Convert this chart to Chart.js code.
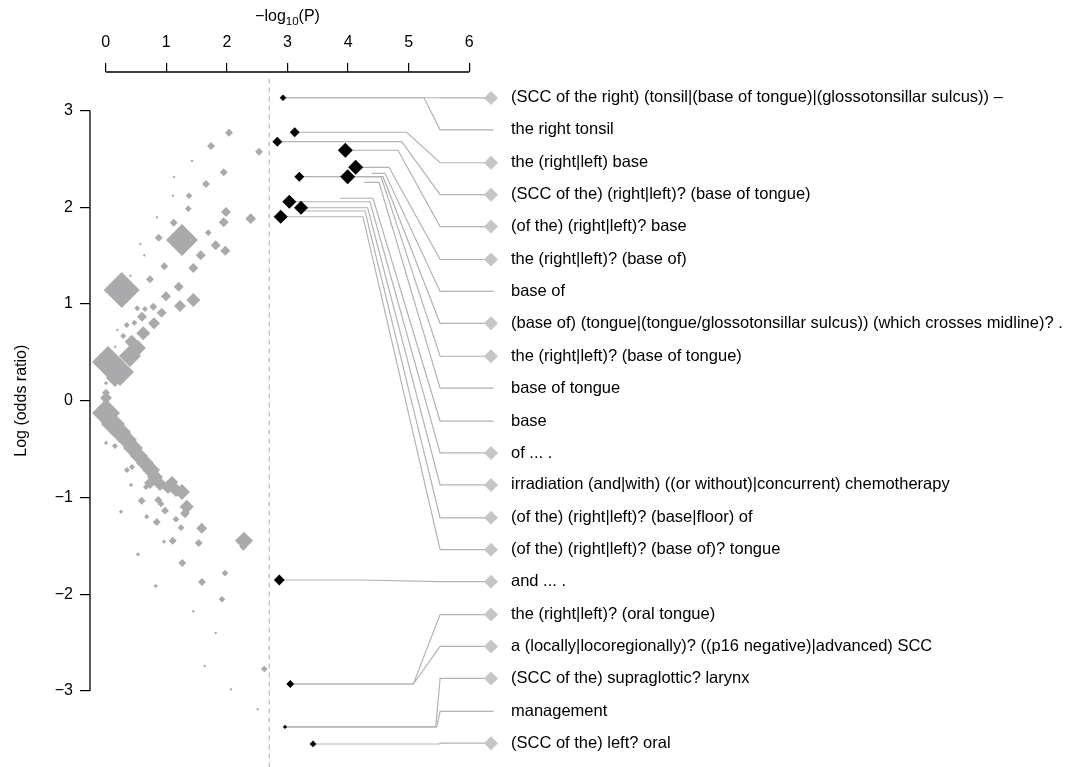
<!DOCTYPE html>
<html>
<head>
<meta charset="utf-8">
<script src="https://cdn.jsdelivr.net/npm/chart.js@4.4.1/dist/chart.umd.min.js"></script>
<style>
  html, body { margin: 0; padding: 0; background: #fff; overflow: hidden; }
  canvas { display: block; }
</style>
</head>
<body>
<canvas id="chart" width="1083" height="767" style="width:1083px;height:767px"></canvas>
<script>
// non-significant phrases: -log10(P), log odds ratio, count
const greyX = [2.035, 1.738, 2.530, 1.424, 1.947, 1.127, 1.655, 1.111, 1.375, 1.363, 1.985, 1.947, 2.393, 0.847, 1.122,
  0.875, 1.259, 1.693, 0.571, 1.815, 1.974, 0.637, 1.568, 0.967, 1.446, 0.406, 0.731, 0.264, 1.205, 0.995, 1.446, 1.226,
  0.521, 0.649, 0.785, 0.924, 0.599, 0.347, 0.472, 0.797, 0.191, 0.290, 0.620, 0.429, 0.158, 0.038, 0.236, 0.401, 0.533,
  0.153, 0.005, 0.005,
  0.005, 0.005, 0.120, 0.236, 0.351, 0.450, 0.549, 0.648, 0.748, 0.814, 0.731, 0.896, 1.028, 1.160, 1.259, 1.094,
  0.005, 0.153, 0.351, 0.434, 0.417, 0.665,
  0.594, 0.868, 0.913, 1.337, 1.309, 0.979, 0.252, 0.677, 0.842, 1.160, 1.243, 1.584, 0.962, 1.106, 1.535, 2.282, 2.271,
  0.533, 1.264, 1.969, 1.589, 0.825, 1.919, 1.446, 1.815, 1.634, 2.617, 2.068, 2.508];
const greyY = [2.771, 2.633, 2.574, 2.481, 2.361, 2.313, 2.240, 2.119, 2.119, 1.985, 1.951, 1.844, 1.882, 1.896, 1.840,
  1.685, 1.662, 1.737, 1.620, 1.607, 1.551, 1.503, 1.503, 1.390, 1.372, 1.293, 1.255, 1.145, 1.179, 1.080, 1.041, 0.979,
  0.956, 0.948, 0.972, 0.910, 0.869, 0.783, 0.807, 0.801, 0.731, 0.669, 0.697, 0.610, 0.559, 0.401, 0.297, 0.463, 0.545,
  0.235, 0.183, 0.083,
  0.028, -0.127, -0.241, -0.323, -0.406, -0.488, -0.571, -0.643, -0.716, -0.788, -0.850, -0.861, -0.892, -0.923, -0.943, -0.840,
  -0.436, -0.468, -0.716, -0.685, -0.871, -0.892,
  -1.033, -1.026, -1.067, -1.095, -1.163, -1.136, -1.147, -1.198, -1.253, -1.225, -1.312, -1.318, -1.457, -1.447, -1.470,
  -1.447, -1.509, -1.587, -1.677, -1.783, -1.873, -1.915, -2.052, -2.176, -2.400, -2.742, -2.773, -2.982, -3.189];
const greyN = [7, 7, 7, 1, 7, 1, 7, 1, 5, 5, 11, 11, 13, 1, 7,
  7, 114, 5, 1, 11, 11, 1, 11, 7, 11, 1, 7, 144, 11, 11, 22, 16,
  4, 4, 7, 11, 11, 4, 4, 16, 1, 4, 22, 22, 1, 114, 87, 54, 28,
  36, 2, 7,
  16, 87, 64, 54, 44, 44, 36, 36, 36, 28, 16, 22, 22, 22, 28, 16,
  2, 4, 4, 4, 2, 4,
  7, 7, 5, 22, 11, 7, 2, 3, 7, 5, 5, 13, 2, 7, 7,
  36, 7, 2, 7, 5, 7, 2, 5, 1, 1, 1, 5, 1, 1];

// significant phrases
const hitX = [2.926, 3.119, 2.832, 3.954, 4.125, 3.993, 3.195, 3.030, 3.223, 2.888, 2.865, 3.046, 2.959, 3.421];
const hitY = [3.132, 2.775, 2.678, 2.589, 2.413, 2.316, 2.316, 2.057, 1.995, 1.902, -1.853, -2.928, -3.372, -3.548];
const hitN = [5, 11, 11, 25, 25, 25, 11, 22, 22, 22, 13, 7, 2, 5];

const phrases = [
  "(SCC of the right) (tonsil|(base of tongue)|(glossotonsillar sulcus)) \u2013",
  "the right tonsil",
  "the (right|left) base",
  "(SCC of the) (right|left)? (base of tongue)",
  "(of the) (right|left)? base",
  "the (right|left)? (base of)",
  "base of",
  "(base of) (tongue|(tongue/glossotonsillar sulcus)) (which crosses midline)? .",
  "the (right|left)? (base of tongue)",
  "base of tongue",
  "base",
  "of ... .",
  "irradiation (and|with) ((or without)|concurrent) chemotherapy",
  "(of the) (right|left)? (base|floor) of",
  "(of the) (right|left)? (base of)? tongue",
  "and ... .",
  "the (right|left)? (oral tongue)",
  "a (locally|locoregionally)? ((p16 negative)|advanced) SCC",
  "(SCC of the) supraglottic? larynx",
  "management",
  "(SCC of the) left? oral"
];
const phraseY = [3.13, 2.80, 2.46, 2.13, 1.80, 1.46, 1.13, 0.80, 0.46, 0.13, -0.21, -0.54, -0.87, -1.21, -1.54,
  -1.87, -2.21, -2.54, -2.87, -3.21, -3.54];
const phraseMark = [1, 0, 1, 1, 1, 1, 0, 1, 1, 0, 0, 1, 1, 1, 1, 1, 1, 1, 1, 0, 1];
// which significant phrase each label is linked to (index into hit*, or a start point)
const phraseFrom = [0, 0, 1, 2, 3, 4, [4.389, 2.351], 6, 5, [4.267, 2.258], [3.866, 2.093], 7, 8, [3.223, 1.961], 9,
  10, 11, 11, 12, 12, 13];

// connector layout
const bendX = [5.518, 5.252, 4.967, 4.884, 4.823, 4.675, 4.609, 4.576, 4.543, 4.510, 4.411, 4.361, 4.323, 4.279, 4.246,
  4.196, 5.076, 5.076, 5.446, 5.462, 5.518];
const JOIN_X = 5.518, MARK_X = 6.358, LINE_END = 6.4, TEXT_X = 6.688;
const threshold = 2.7;

const FONT = "'Liberation Sans', Arial, Helvetica, sans-serif";
const rad = n => 1.5 * Math.sqrt(n);

Chart.defaults.color = '#000';
Chart.defaults.font.family = FONT;

const linkSets = phrases.map((p, i) => {
  const f = phraseFrom[i];
  const sx = Array.isArray(f) ? f[0] : hitX[f];
  const sy = Array.isArray(f) ? f[1] : hitY[f];
  return {
    data: [{x: sx, y: sy}, {x: bendX[i], y: sy}, {x: JOIN_X, y: phraseY[i]}, {x: LINE_END, y: phraseY[i]}],
    showLine: true, borderColor: '#b3b3b3', borderWidth: 1.2, pointRadius: 0, order: 4
  };
});

const decor = {
  id: 'decor',
  afterDraw(chart) {
    const ctx = chart.ctx, xs = chart.scales.x, ys = chart.scales.y;
    ctx.save();
    ctx.strokeStyle = '#000';
    ctx.lineWidth = 1.3;
    ctx.beginPath();
    ctx.moveTo(xs.getPixelForValue(0), chart.chartArea.top);
    ctx.lineTo(xs.getPixelForValue(6), chart.chartArea.top);
    ctx.moveTo(chart.chartArea.left, ys.getPixelForValue(3));
    ctx.lineTo(chart.chartArea.left, ys.getPixelForValue(-3));
    ctx.stroke();

    ctx.fillStyle = '#000';
    ctx.textBaseline = 'middle';
    // x title with subscript
    const big = '16px ' + FONT, small = '11.5px ' + FONT;
    ctx.font = big; const w1 = ctx.measureText('\u2212log').width, w3 = ctx.measureText('(P)').width;
    ctx.font = small; const w2 = ctx.measureText('10').width;
    let tx = xs.getPixelForValue(3) - (w1 + w2 + w3) / 2;
    const ty = 17;
    ctx.textAlign = 'left';
    ctx.font = big; ctx.fillText('\u2212log', tx, ty); tx += w1;
    ctx.font = small; ctx.fillText('10', tx, ty + 4.5); tx += w2;
    ctx.font = big; ctx.fillText('(P)', tx, ty);

    // y title
    ctx.save();
    ctx.translate(22, ys.getPixelForValue(0));
    ctx.rotate(-Math.PI / 2);
    ctx.textAlign = 'center';
    ctx.fillText('Log (odds ratio)', 0, 0);
    ctx.restore();

    // phrase labels
    ctx.textAlign = 'left';
    ctx.fillStyle = '#000';
    ctx.font = '16.5px ' + FONT;
    phrases.forEach((p, i) => {
      ctx.fillText(p, xs.getPixelForValue(TEXT_X), ys.getPixelForValue(phraseY[i]));
    });
    ctx.restore();
  }
};

new Chart(document.getElementById('chart'), {
  type: 'scatter',
  data: {
    datasets: [
      {
        data: [{x: threshold, y: 3.33}, {x: threshold, y: -3.79}],
        showLine: true, borderColor: '#bcbcbc', borderWidth: 1.2, borderDash: [5, 4], pointRadius: 0, order: 5
      },
      ...linkSets,
      {
        data: greyX.map((x, i) => ({x: x, y: greyY[i]})),
        pointStyle: 'rectRot', pointRadius: greyN.map(rad), backgroundColor: '#aaaaac', borderWidth: 0, order: 3
      },
      {
        data: phraseY.map((y, i) => ({x: MARK_X, y: y})).filter((d, i) => phraseMark[i]),
        pointStyle: 'rectRot', pointRadius: 7, backgroundColor: '#c6c6c6', borderWidth: 0, order: 2
      },
      {
        data: hitX.map((x, i) => ({x: x, y: hitY[i]})),
        pointStyle: 'rectRot', pointRadius: hitN.map(rad), backgroundColor: '#000', borderWidth: 0, order: 1
      }
    ]
  },
  options: {
    responsive: false,
    animation: false,
    events: [],
    layout: { padding: 0, autoPadding: false },
    scales: {
      x: {
        type: 'linear',
        position: 'top',
        min: -0.259,
        max: 16.127,
        afterBuildTicks: s => { s.ticks = [0, 1, 2, 3, 4, 5, 6].map(v => ({value: v})); },
        afterFit: s => { s.height = 72; s.paddingLeft = 0; s.paddingRight = 0; },
        grid: { drawOnChartArea: false, drawTicks: true, tickLength: 9, color: '#000', lineWidth: 1.2 },
        border: { display: false },
        ticks: { padding: 11, font: { size: 16 }, color: '#000' }
      },
      y: {
        type: 'linear',
        position: 'left',
        min: -3.786,
        max: 3.398,
        afterBuildTicks: s => { s.ticks = [-3, -2, -1, 0, 1, 2, 3].map(v => ({value: v})); },
        afterFit: s => { s.width = 90; s.paddingTop = 0; s.paddingBottom = 0; },
        grid: { drawOnChartArea: false, drawTicks: true, tickLength: 10, color: '#000', lineWidth: 1.2 },
        border: { display: false },
        ticks: {
          padding: 7, font: { size: 16 }, color: '#000',
          callback: v => v < 0 ? '\u2212' + Math.abs(v) : String(v)
        }
      }
    },
    plugins: { legend: { display: false }, tooltip: { enabled: false } }
  },
  plugins: [decor]
});
</script>
</body>
</html>
